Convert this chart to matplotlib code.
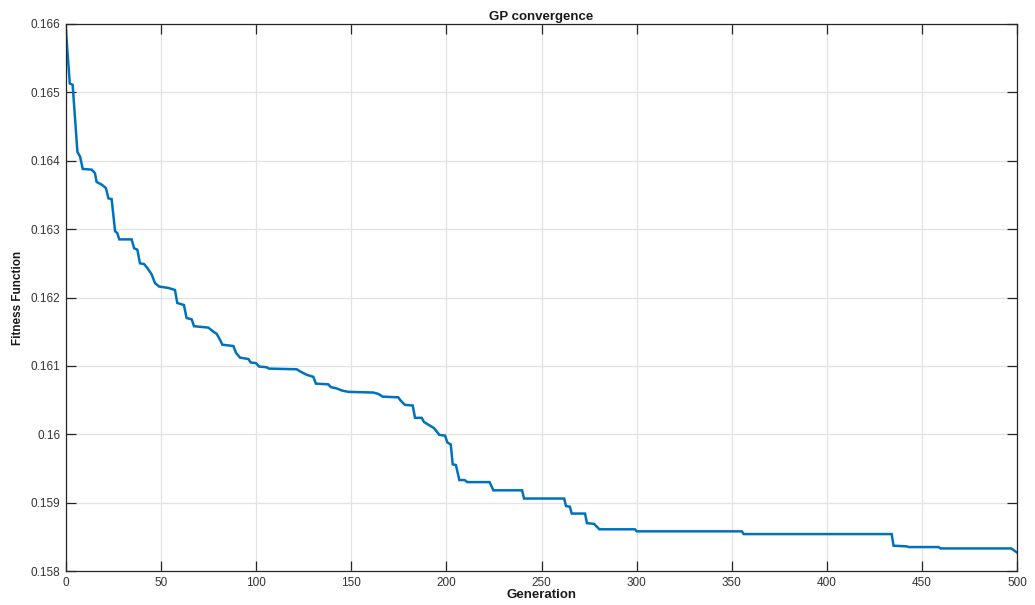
import matplotlib
matplotlib.use("Agg")
import matplotlib.pyplot as plt
from matplotlib.ticker import FuncFormatter

# values (generation, best fitness)
generation = [0, 2, 3.5, 6, 7.4, 8.8, 13.5, 15.2, 16.1, 18.8, 21, 22.3, 24, 25.8, 27, 28,
              34.5, 35.8, 37.5, 38.9, 41, 42.8, 45, 46.8, 49, 53.8, 57.3, 58.5, 62, 63.4,
              66.1, 67.3, 74.8, 77.5, 79.2, 81, 82.2, 88, 89.4, 91.5, 95.9, 97.1, 99.9,
              101.5, 105.5, 106.7, 121.3, 123, 126.5, 130, 131.4, 137.9, 139.2, 142.3, 145,
              148.4, 161.6, 164.2, 166.5, 174.7, 176, 178.2, 182.3, 183.5, 187, 188.2,
              190.5, 193.5, 196.3, 199.3, 200.5, 202.3, 203.3, 205, 206.8, 209.6, 211,
              222.7, 224.7, 239.8, 240.8, 261.9, 262.9, 264.9, 265.9, 272.9, 273.9, 277.6,
              280.4, 299.1, 300.1, 355.3, 356.3, 434.1, 435.1, 442.1, 443.1, 458.8, 459.8,
              497, 499, 500]
fitness = [0.16589, 0.16513, 0.16511, 0.16413, 0.16406, 0.16388, 0.16387, 0.16382, 0.16369,
           0.16365, 0.16360, 0.16345, 0.16344, 0.16297, 0.16294, 0.16285, 0.16285, 0.16272,
           0.16270, 0.16250, 0.16249, 0.16243, 0.16234, 0.16221, 0.16216, 0.16214, 0.16211,
           0.16192, 0.16189, 0.16170, 0.16168, 0.16158, 0.16156, 0.16150, 0.16147, 0.16138,
           0.16131, 0.16129, 0.16119, 0.16112, 0.16110, 0.16105, 0.16104, 0.16099, 0.16098,
           0.16096, 0.16095, 0.16092, 0.16087, 0.16084, 0.16074, 0.16073, 0.16069, 0.16067,
           0.16064, 0.16062, 0.16061, 0.16059, 0.16055, 0.16054, 0.16049, 0.16043, 0.16042,
           0.16024, 0.16024, 0.16018, 0.16014, 0.16009, 0.15999, 0.15998, 0.15988, 0.15985,
           0.15956, 0.15955, 0.15933, 0.15933, 0.15930, 0.15930, 0.15918, 0.15918, 0.15906,
           0.15906, 0.15895, 0.15894, 0.15884, 0.15884, 0.15870, 0.15869, 0.15861, 0.15861,
           0.15858, 0.15858, 0.15854, 0.15854, 0.15837, 0.15836, 0.15835, 0.15835, 0.15833,
           0.15833, 0.15829, 0.15827]

x_ticks = list(range(0, 501, 50))
y_ticks = [0.158, 0.159, 0.160, 0.161, 0.162, 0.163, 0.164, 0.165, 0.166]

plt.rcParams['font.family'] = ['Liberation Sans', 'DejaVu Sans']

fig = plt.figure(figsize=(10.35, 6.05), dpi=100)
ax = fig.add_axes([66/1035, 1 - 571/605, (1017-66)/1035, (571-24)/605])

ax.plot(generation, fitness, color='#0072BD', linewidth=1.8, solid_joinstyle='miter')

ax.set_xlim(0, 500)
ax.set_ylim(0.158, 0.166)
ax.set_xticks(x_ticks)
ax.set_yticks(y_ticks)
ax.yaxis.set_major_formatter(FuncFormatter(lambda v, p: f"{v:g}"))

# matlab-ish look
ax.grid(True, color='#e3e3e3', linewidth=0.9)
ax.set_axisbelow(True)
for s in ax.spines.values():
    s.set_color('#262626')
    s.set_linewidth(0.9)
ax.tick_params(direction='in', length=7, width=0.9, colors='#262626',
               labelsize=8.5, top=True, right=True, pad=4)
ax.tick_params(axis='x', labelcolor='#333333')
ax.tick_params(axis='y', labelcolor='#333333')

ax.set_title('GP convergence', fontsize=9.5, fontweight='bold', pad=3, color='#1a1a1a')
ax.set_xlabel('Generation', fontsize=9.5, fontweight='bold', labelpad=0, color='#1a1a1a')
ax.set_ylabel('Fitness Function', fontsize=8.5, fontweight='bold', labelpad=5, color='#1a1a1a')

fig.savefig('out.png', dpi=100)
